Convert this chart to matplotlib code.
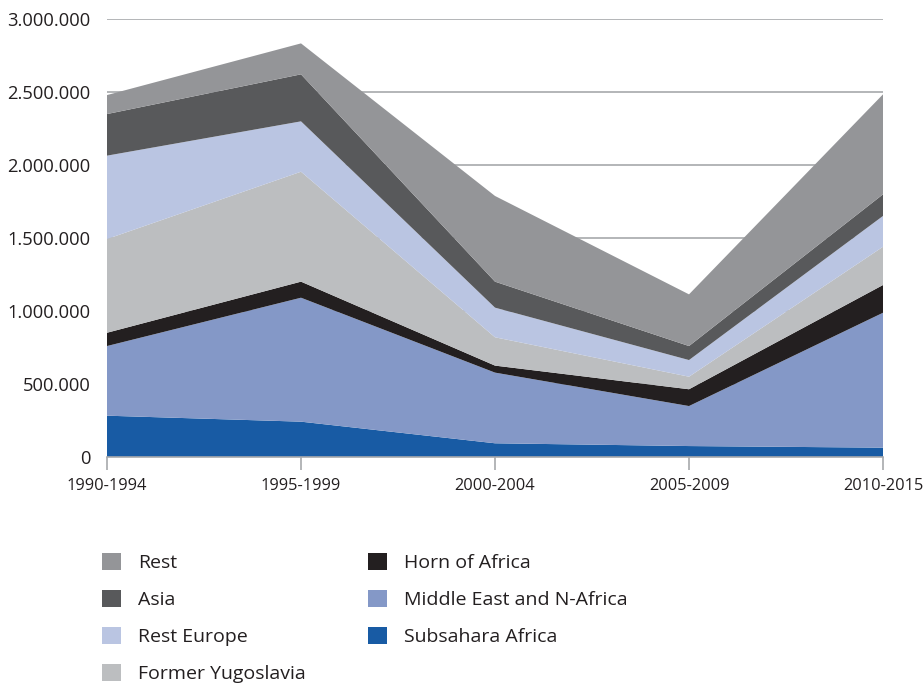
import matplotlib
matplotlib.use("Agg")
import matplotlib.pyplot as plt
import numpy as np
from matplotlib.patches import Patch
from matplotlib.ticker import FuncFormatter

plt.rcParams['font.family'] = ['Open Sans', 'DejaVu Sans']

periods = ["1990-1994", "1995-1999", "2000-2004", "2005-2009", "2010-2015"]

# values per region, bottom layer first
subsahara = [283000, 242000, 94000, 75000, 64000]
mena = [477000, 849000, 484000, 274000, 924000]
horn = [91000, 110000, 48000, 115000, 190000]
yugoslavia = [642000, 753000, 194000, 86000, 262000]
rest_europe = [571000, 345000, 203000, 114000, 211000]
asia = [285000, 322000, 178000, 96000, 148000]
rest = [130000, 212000, 587000, 354000, 685000]

labels = ["Subsahara Africa", "Middle East and N-Africa", "Horn of Africa",
          "Former Yugoslavia", "Rest Europe", "Asia", "Rest"]
colors = ["#185ba4", "#8498c7", "#231f20", "#bcbec0", "#bac5e2", "#58595b", "#949598"]

text_col = "#231f20"
grid_col = "#a7a9ac"

fig = plt.figure(figsize=(9.24, 6.85), dpi=100)
ax = fig.add_axes([107 / 924, 228 / 685, 776 / 924, 438 / 685])

x = np.arange(len(periods))
ax.stackplot(x, subsahara, mena, horn, yugoslavia, rest_europe, asia, rest,
             colors=colors, labels=labels, edgecolor="none")

ax.set_xlim(0, len(periods) - 1)
ax.set_ylim(0, 3000000)
ax.set_yticks(np.arange(0, 3000001, 500000))
ax.yaxis.set_major_formatter(FuncFormatter(lambda v, p: f"{v:,.0f}".replace(",", ".")))
ax.set_xticks(x)
ax.set_xticklabels(periods)

ax.set_axisbelow(True)
ax.grid(axis="y", color=grid_col, linewidth=1.2)
for s in ["top", "right", "left"]:
    ax.spines[s].set_visible(False)
ax.spines["bottom"].set_color(grid_col)
ax.spines["bottom"].set_linewidth(1.2)
ax.tick_params(axis="y", length=0, pad=12, labelsize=13.2, labelcolor=text_col)
ax.tick_params(axis="x", length=9, width=1.2, color=grid_col, pad=6,
               labelsize=11.8, labelcolor=text_col)
# last label sits just inside the figure edge
ax.get_xticklabels()[-1].set_x(len(periods) - 1.01)

# legend in two columns
handles = [Patch(facecolor=c, edgecolor="none") for c in colors]
order1 = [6, 5, 4, 3]
order2 = [2, 1, 0]
kw = dict(frameon=False, fontsize=14, handlelength=1.0, handleheight=1.0,
          handletextpad=0.85, labelspacing=0.9, borderpad=0, borderaxespad=0,
          loc="upper left", labelcolor=text_col)
leg1 = fig.legend([handles[i] for i in order1], [labels[i] for i in order1],
                  bbox_to_anchor=(102 / 924, 1 - 553 / 685), **kw)
leg2 = fig.legend([handles[i] for i in order2], [labels[i] for i in order2],
                  bbox_to_anchor=(368 / 924, 1 - 553 / 685), **kw)

fig.savefig("out.png", dpi=100)
